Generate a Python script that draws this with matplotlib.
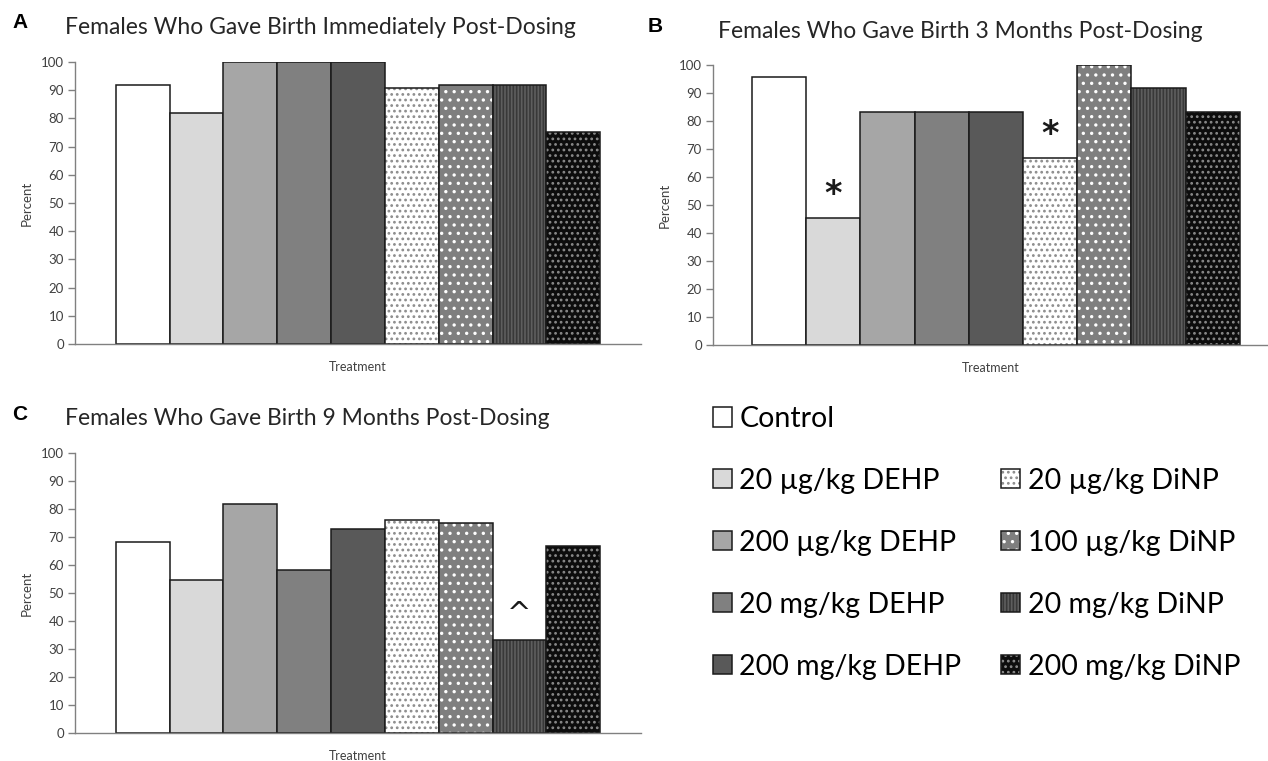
import matplotlib
matplotlib.use("Agg")
import matplotlib.pyplot as plt
import numpy as np

plt.rcParams['font.family'] = ['Lato', 'DejaVu Sans']
plt.rcParams['hatch.linewidth'] = 1.2

groups = ['Control', '20 µg/kg DEHP', '200 µg/kg DEHP', '20 mg/kg DEHP', '200 mg/kg DEHP',
          '20 µg/kg DiNP', '100 µg/kg DiNP', '20 mg/kg DiNP', '200 mg/kg DiNP']
pct_immediate = [91.7, 81.8, 100, 100, 100, 90.9, 91.7, 91.7, 75.0]
pct_3mo = [95.7, 45.5, 83.3, 83.3, 83.3, 66.7, 100, 91.7, 83.3]
pct_9mo = [68.2, 54.5, 81.8, 58.3, 72.7, 75.9, 75.0, 33.3, 66.7]
y_ticks = [0, 10, 20, 30, 40, 50, 60, 70, 80, 90, 100]

# significance marks: (bar index, symbol)
marks_3mo = [(1, '*'), (5, '*')]
marks_9mo = [(7, '^')]

# fill style per group: face colour, hatch, hatch colour
face = ['white', '#d9d9d9', '#a6a6a6', '#808080', '#595959', 'white', '#7f7f7f', '#383838', '#0d0d0d']
hatch = [None, None, None, None, None, '...', '..', '|||||', '...']
hatch_col = ['black', 'black', 'black', 'black', 'black', '#8c8c8c', 'white', '#5e5e5e', '#8a8a8a']

W, H = 1268, 761
fig = plt.figure(figsize=(W / 100, H / 100), dpi=100)


def px_rect(x0, x1, ytop, ybot):
    return [x0 / W, 1 - ybot / H, (x1 - x0) / W, (ybot - ytop) / H]


def draw_panel(rect, xlim, values, letter, letter_x, title, title_x, title_y, marks=()):
    ax = fig.add_axes(rect)
    x = np.arange(len(values))
    handles = []
    for i, v in enumerate(values):
        fill = ax.bar(x[i], v, width=1.0, color=face[i], hatch=hatch[i],
                      edgecolor=hatch_col[i], linewidth=0)
        edge = ax.bar(x[i], v, width=1.0, facecolor='none', edgecolor='#1a1a1a', linewidth=1.1)
        handles.append((fill, edge))
    for i, s in marks:
        if s == '*':
            ax.text(x[i], values[i] + 5, s, ha='center', va='baseline', fontsize=24,
                    fontweight='bold', color='#1a1a1a', family='DejaVu Sans')
        else:
            ax.text(x[i], values[i] + 6.5, s, ha='center', va='baseline', fontsize=21,
                    color='#1a1a1a', family='DejaVu Sans')
    ax.set_xlim(*xlim)
    ax.set_ylim(0, 100)
    ax.set_yticks(y_ticks)
    ax.set_xticks([])
    ax.tick_params(axis='y', labelsize=9.5, labelcolor='#404040', color='#808080',
                   length=5, width=1, pad=3)
    for s in ['top', 'right']:
        ax.spines[s].set_visible(False)
    for s in ['left', 'bottom']:
        ax.spines[s].set_color('#808080')
        ax.spines[s].set_linewidth(1)
    ax.set_ylabel('Percent', fontsize=9.5, color='#404040', labelpad=6)
    ax.set_xlabel('Treatment', fontsize=9, color='#404040', labelpad=12)
    ax.patch.set_alpha(0)
    fig.text(title_x / W, 1 - title_y / H, title, fontsize=16.5, color='#262626',
             ha='left', va='center')
    fig.text(letter_x / W, 1 - (title_y - 4) / H, letter,
             fontsize=15, fontweight='bold', family='Liberation Sans', ha='left', va='center')
    return handles


hA = draw_panel(px_rect(75, 641, 62, 344), (-1.26, 9.26), pct_immediate, 'A', 12,
                'Females Who Gave Birth Immediately Post-Dosing', 65, 27)
hB = draw_panel(px_rect(713, 1268, 65, 345), (-1.22, 9.02), pct_3mo, 'B', 648,
                'Females Who Gave Birth 3 Months Post-Dosing', 718, 31, marks_3mo)
hC = draw_panel(px_rect(75, 641, 453, 733), (-1.26, 9.26), pct_9mo, 'C', 12,
                'Females Who Gave Birth 9 Months Post-Dosing', 65, 419, marks_9mo)

# legend: DEHP column (with control on top), DiNP column
blank = plt.Rectangle((0, 0), 1, 1, visible=False)
leg_handles = hA[:5] + [blank] + hA[5:]
leg_labels = groups[:5] + [''] + groups[5:]
fig.legend(leg_handles, leg_labels, ncol=2, loc='upper left',
           bbox_to_anchor=(713 / W, 1 - 406 / H), frameon=False, fontsize=20.5,
           handlelength=0.65, handleheight=0.65, handletextpad=0.28,
           labelspacing=1.26, columnspacing=1.4, borderaxespad=0, borderpad=0)

fig.savefig('out.png', dpi=100)
